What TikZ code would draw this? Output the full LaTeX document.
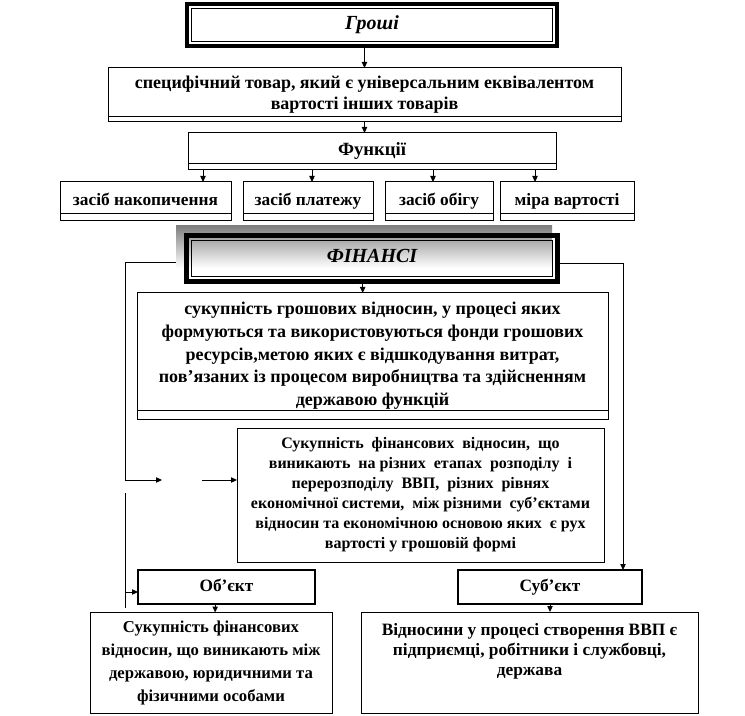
\documentclass[tikz,border=0pt]{standalone}
\usepackage{fontspec}
\setmainfont{Liberation Serif}
\usetikzlibrary{arrows.meta,calc}
\definecolor{shade}{HTML}{C8C8C8}

\begin{document}
\begin{tikzpicture}[x=0.75pt,y=-0.75pt,>={Triangle[length=4.5pt,width=4pt]},
    box/.style={draw,line width=0.75pt,outer sep=0pt,inner sep=0pt,align=center,
      font=\bfseries\fontsize{13}{15}\selectfont},
    framebox/.style={draw,line width=3.6pt,outer sep=0pt,inner sep=0pt,
      font=\bfseries\itshape\fontsize{15}{17}\selectfont},
    rolebox/.style={draw,line width=2.2pt,outer sep=0pt,inner sep=0pt,
      font=\bfseries\fontsize{13}{15}\selectfont},
    oneline/.style={text height=9.5pt,text depth=3pt},
    link/.style={line width=0.75pt}]
  \useasboundingbox (0,0) rectangle (745,716);

  % money
  \node[framebox,oneline,minimum width=370*0.75pt,minimum height=42*0.75pt] (money) at (372,25) {Гроші};
  \draw[link] ([shift={(3.6pt,-3.6pt)}]money.north west) rectangle ([shift={(-3.6pt,3.6pt)}]money.south east);

  \node[box,minimum width=513*0.75pt,minimum height=54*0.75pt,
    font=\bfseries\fontsize{13.5}{16}\selectfont] (spec) at (364.5,95)
    {специфічний товар, який є універсальним еквівалентом\\вартості інших товарів};
  \draw[link] ([yshift=3.75pt]spec.south west) -- ([yshift=3.75pt]spec.south east);
  \draw[link,->] (money.south -| spec.north) -- (spec.north);

  % functions
  \node[box,oneline,minimum width=368*0.75pt,minimum height=37*0.75pt,
    font=\bfseries\fontsize{14}{16}\selectfont] (funcs) at (372,151.5) {Функції};
  \draw[link] ([yshift=4.5pt]funcs.south west) -- ([yshift=4.5pt]funcs.south east);
  \draw[link,->] (spec.south) -- (spec.south |- funcs.north);

  \node[box,oneline,minimum width=171*0.75pt,minimum height=39*0.75pt] (acc) at (145.5,201.5) {засіб накопичення};
  \node[box,oneline,minimum width=130*0.75pt,minimum height=39*0.75pt] (pay) at (308,201.5) {засіб платежу};
  \node[box,oneline,minimum width=108*0.75pt,minimum height=39*0.75pt] (circ) at (439,201.5) {засіб обігу};
  \node[box,oneline,minimum width=134*0.75pt,minimum height=39*0.75pt] (meas) at (567,201.5) {міра вартості};
  \foreach \f/\ax in {acc/203,pay/312,circ/433,meas/535}{
    \draw[link] ([yshift=5.25pt]\f.south west) -- ([yshift=5.25pt]\f.south east);
    \draw[link,->] (funcs.south -| \ax,0) -- (\f.north -| \ax,0);
  }

  % finance
  \coordinate (shadeNW) at (176,226);
  \coordinate (shadeSE) at (552,268);
  \fill[shade] (shadeNW) rectangle (shadeSE);
  \node[framebox,oneline,minimum width=371.5*0.75pt,minimum height=46.5*0.75pt] (fin) at (372,258.5) {ФІНАНСІ};
  \draw[link] ([shift={(3.6pt,-3.6pt)}]fin.north west) rectangle ([shift={(-3.6pt,3.6pt)}]fin.south east);

  \node[box,minimum width=471*0.75pt,minimum height=126*0.75pt,
    font=\bfseries\fontsize{13.5}{17}\selectfont] (def) at (372.5,356)
    {сукупність грошових відносин, у процесі яких\\формуються та використовуються фонди грошових\\ресурсів,метою яких є відшкодування витрат,\\пов’язаних із процесом виробництва та здійсненням\\державою функцій};
  \draw[link] ([yshift=6.75pt]def.south west) -- ([yshift=6.75pt]def.south east);
  \coordinate (finS) at ([xshift=-7pt]fin.south);
  \draw[link,->] (finS) -- (finS |- def.north);

  \node[box,minimum width=367*0.75pt,minimum height=134*0.75pt,
    font=\bfseries\fontsize{12}{15}\selectfont] (rel) at (420.5,495)
    {Сукупність\ \ фінансових\ \ відносин,\ \ що\\виникають\ \ на різних\ \ етапах\ \ розподілу\ \ і\\перерозподілу\ \ ВВП,\ \ різних\ \ рівнях\\економічної системи,\ \ між різними\ \ суб’єктами\\відносин та економічною основою яких\ \ є рух\\вартості у грошовій формі};

  % links from finance
  \coordinate (finL) at (176,263);
  \coordinate (gapL) at (162,480);
  \coordinate (gapR) at (202,480);
  \draw[link,->] (finL) -- ++(-51,0) |- (gapL);
  \draw[link,->] (gapR) -- (rel.west |- gapR);

  % object and subject
  \node[rolebox,oneline,minimum width=177*0.75pt,minimum height=34*0.75pt] (obj) at (226.5,587) {Об’єкт};
  \node[rolebox,oneline,minimum width=184*0.75pt,minimum height=34*0.75pt] (subj) at (550,587) {Суб’єкт};

  \coordinate (stubTop) at (125,493);
  \coordinate (stubBot) at (125,608);
  \draw[link] (stubTop) -- (stubBot);
  \coordinate (objIn) at ([yshift=-3.75pt]obj.west);
  \draw[link,->] (objIn -| stubTop) -- (objIn);
  \coordinate (subjIn) at ([xshift=54.75pt]subj.north);
  \draw[link,->] ([yshift=-3.4pt]fin.east) -| (subjIn);

  \node[box,minimum width=242*0.75pt,minimum height=101*0.75pt,
    font=\bfseries\fontsize{12.5}{17.25}\selectfont] (objdesc) at (211,663)
    {Сукупність фінансових\\відносин, що виникають між\\державою, юридичними та\\фізичними особами};
  \node[box,minimum width=337*0.75pt,minimum height=101*0.75pt,text depth=19pt] (subjdesc) at (529.5,662.5)
    {Відносини у процесі створення ВВП є\\підприємці, робітники і службовці,\\держава};

  \coordinate (objOut) at ([xshift=-8.5pt]obj.south);
  \draw[link,->] (objOut) -- (objOut |- objdesc.north);
  \draw[link,->] (subj.south) -- (subj.south |- subjdesc.north);
\end{tikzpicture}
\end{document}
